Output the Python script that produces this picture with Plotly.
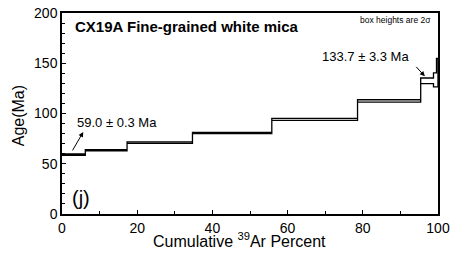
import plotly.graph_objects as go

# Step data (cumulative 39Ar % edges, apparent ages and 2-sigma half heights)
cum_edges = [0, 6.2, 17.3, 34.7, 55.8, 78.6, 95.4, 98.8, 99.6, 100]
ages = [59.0, 63.5, 71.0, 80.5, 94.2, 112.5, 132.5, 133.5, 140.6]
err2s = [0.7, 0.6, 0.7, 0.6, 1.0, 1.2, 2.8, 7.0, 14.2]

x_ticks = [0, 20, 40, 60, 80, 100]
y_ticks = [0, 50, 100, 150, 200]

hi = [a + e for a, e in zip(ages, err2s)]
lo = [a - e for a, e in zip(ages, err2s)]
n = len(ages)
xs, ys = [], []
for i in range(n):
    xs += [cum_edges[i], cum_edges[i + 1]]
    ys += [hi[i], hi[i]]
for i in reversed(range(n)):
    xs += [cum_edges[i + 1], cum_edges[i]]
    ys += [lo[i], lo[i]]
xs.append(xs[0])
ys.append(ys[0])

fig = go.Figure()
fig.add_trace(go.Scatter(x=xs, y=ys, mode="lines", fill="toself",
                         fillcolor="white", line=dict(color="black", width=1.3),
                         hoverinfo="skip", showlegend=False, cliponaxis=False))

font = "Liberation Sans, Arial, sans-serif"
axis_common = dict(showgrid=False, zeroline=False, showline=True, linecolor="black",
                   linewidth=1.5, mirror=True, ticks="inside", ticklen=4,
                   tickcolor="black", tickwidth=1, automargin=False,
                   tickfont=dict(family=font, size=14, color="black"))
fig.update_xaxes(range=[0, 100], tickvals=x_ticks,
                 minor=dict(dtick=10, ticks="inside", ticklen=3, tickcolor="black"),
                 **axis_common)
fig.update_yaxes(range=[0, 200], tickvals=y_ticks,
                 minor=dict(dtick=10, ticks="inside", ticklen=3, tickcolor="black"),
                 **axis_common)

# axis titles
fig.add_annotation(x=0.473, y=-0.13, xref="paper", yref="paper",
                   text="Cumulative <sup>39</sup>Ar Percent", showarrow=False,
                   xanchor="center", yanchor="middle",
                   font=dict(family=font, size=16, color="black"))
fig.add_annotation(x=-0.115, y=0.49, xref="paper", yref="paper",
                   text="Age(Ma)", showarrow=False, textangle=-90,
                   xanchor="center", yanchor="middle",
                   font=dict(family=font, size=16, color="black"))

fig.add_annotation(x=2.9, y=186.6, text="<b>CX19A Fine-grained white mica</b>",
                   showarrow=False, xanchor="left", yanchor="middle",
                   font=dict(family=font, size=15, color="black"))
fig.add_annotation(x=98.7, y=192.6, text="box heights are 2σ",
                   showarrow=False, xanchor="right", yanchor="middle",
                   font=dict(family=font, size=8.5, color="black"))
fig.add_annotation(x=3.4, y=90.6, text="59.0 ± 0.3 Ma", showarrow=False,
                   xanchor="left", yanchor="middle",
                   font=dict(family=font, size=13, color="black"))
fig.add_annotation(x=92.8, y=156.8, text="133.7 ± 3.3 Ma", showarrow=False,
                   xanchor="right", yanchor="middle",
                   font=dict(family=font, size=13, color="black"))
fig.add_annotation(x=5.66, y=81.7, ax=-11.6, ay=20, text="", showarrow=True,
                   arrowhead=2, arrowsize=1, arrowwidth=1, arrowcolor="black")
fig.add_annotation(x=96.5, y=137, ax=-10, ay=-11, text="", showarrow=True,
                   arrowhead=2, arrowsize=1, arrowwidth=1, arrowcolor="black")
fig.add_annotation(x=2.0, y=16.0, text="(j)", showarrow=False,
                   xanchor="left", yanchor="middle",
                   font=dict(family=font, size=20, color="black"))

fig.update_layout(width=451, height=255, margin=dict(l=62, r=13, t=12.5, b=41),
                  paper_bgcolor="white", plot_bgcolor="white")
fig.write_html("out.html", config={"displayModeBar": False},
               post_script="document.body.style.margin='0';document.body.style.overflow='hidden';")
